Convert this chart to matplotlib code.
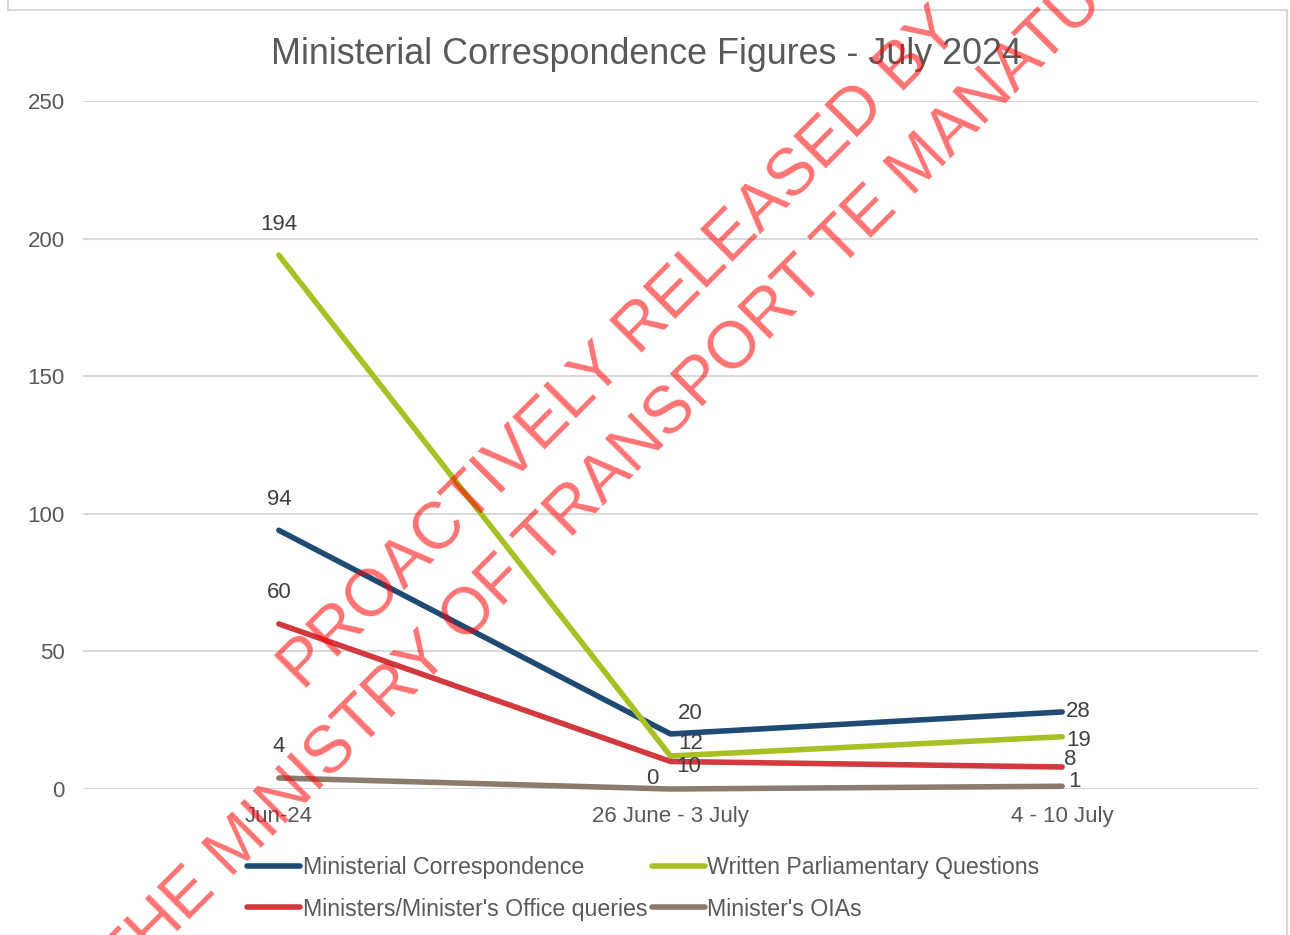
"""Ministerial correspondence figures, July 2024 - line chart with watermark."""

import matplotlib

matplotlib.use("Agg")
import matplotlib.pyplot as plt
from matplotlib.lines import Line2D

plt.rcParams["font.family"] = ["Liberation Sans", "DejaVu Sans"]

CATEGORIES = ["Jun-24", "26 June - 3 July", "4 - 10 July"]
MIN_CORRESPONDENCE = [94, 20, 28]
WRITTEN_PQS = [194, 12, 19]
OFFICE_QUERIES = [60, 10, 8]
MINISTER_OIAS = [4, 0, 1]

SERIES = [
    ("Ministerial Correspondence", MIN_CORRESPONDENCE, "#1f4a73"),
    ("Written Parliamentary Questions", WRITTEN_PQS, "#a8c023"),
    ("Ministers/Minister's Office queries", OFFICE_QUERIES, "#d1393e"),
    ("Minister's OIAs", MINISTER_OIAS, "#8b7b6d"),
]

# label offsets in pixels (dx, dy up) per series, per category
LABEL_OFFSETS = {
    "Ministerial Correspondence": [(0, 31), (20, 20), (16, 0)],
    "Written Parliamentary Questions": [(0, 31), (20, 12), (16, -4)],
    "Ministers/Minister's Office queries": [(0, 31), (18, -5), (8, 7)],
    "Minister's OIAs": [(0, 31), (-18, 11), (12, 5)],
}

W, H = 1290, 935
fig = plt.figure(figsize=(W / 100, H / 100), dpi=100)

# chart border
for xs, ys in [((8, 8), (0, 10)), ((8, 1287), (10, 10)), ((1287, 1287), (10, 935))]:
    fig.add_artist(Line2D([x / W for x in xs], [1 - y / H for y in ys],
                          color="#d9d9d9", lw=1.5, transform=fig.transFigure))

ax = fig.add_axes([83 / W, (H - 789) / H, (1258 - 83) / W, (789 - 101) / H])
x = list(range(len(CATEGORIES)))
pt = 0.72  # points per pixel

handles = {}
for name, vals, color in SERIES:
    (ln,) = ax.plot(x, vals, color=color, lw=4, solid_capstyle="round",
                    solid_joinstyle="round", clip_on=False, zorder=3)
    handles[name] = ln
    for xi, v, (dx, dy) in zip(x, vals, LABEL_OFFSETS[name]):
        ax.annotate(str(v), (xi, v), xytext=(dx * pt, dy * pt), textcoords="offset points",
                    ha="center", va="center", fontsize=16, color="#404040", zorder=4)

ax.set_xlim(-0.5, 2.5)
ax.set_ylim(0, 250)
ax.set_yticks([0, 50, 100, 150, 200, 250])
ax.set_xticks(x)
ax.set_xticklabels(CATEGORIES)
ax.grid(axis="y", color="#d9d9d9", lw=1.5)
ax.set_axisbelow(True)
for s in ax.spines.values():
    s.set_visible(False)
ax.tick_params(axis="both", length=0, labelsize=16, colors="#595959")
ax.tick_params(axis="y", pad=13)
ax.tick_params(axis="x", pad=12)

fig.text(646 / W, 1 - 54 / H, "Ministerial Correspondence Figures - July 2024",
         ha="center", va="center", fontsize=25.8, color="#595959")

order = ["Ministerial Correspondence", "Ministers/Minister's Office queries",
         "Written Parliamentary Questions", "Minister's OIAs"]
fig.legend([handles[n] for n in order], order, loc="upper left",
           bbox_to_anchor=(247 / W, 1 - 856 / H), ncol=2, frameon=False,
           fontsize=16.7, handlelength=2.3, handletextpad=0.1, columnspacing=0.2,
           labelspacing=0.8, borderpad=0, borderaxespad=0, labelcolor="#595959")

# watermark
wm = dict(rotation=45, rotation_mode="anchor", ha="left", va="baseline",
          fontsize=47.5, color="red", alpha=0.55, transform=fig.transFigure, zorder=10)
fig.text(304 / W, 1 - 692 / H, "PROACTIVELY RELEASED BY", **wm)
fig.text(124 / W, 1 - 985 / H, "THE MINISTRY OF TRANSPORT TE MANATŪ WAKA", **wm)

fig.savefig("out.png", dpi=100)
plt.close(fig)
